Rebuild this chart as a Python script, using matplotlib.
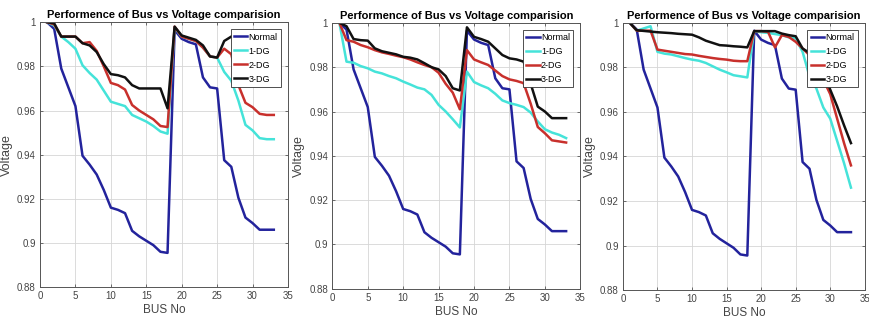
import numpy as np
import matplotlib.pyplot as plt
from matplotlib import font_manager

# Barras do sistema de 33 barras
bus = list(range(1, 34))

# Caso base (igual nos tres graficos)
normal = [1.0, 0.997, 0.979, 0.9705, 0.962, 0.9395, 0.9355, 0.931, 0.9240, 0.916,
          0.915, 0.9135, 0.9055, 0.903, 0.901, 0.899, 0.896, 0.8955, 0.9965, 0.9925,
          0.991, 0.990, 0.975, 0.9705, 0.970, 0.9375, 0.9345, 0.9205, 0.9115, 0.909,
          0.906, 0.906, 0.906]

# Grafico 1
dg1_a = [1.0, 0.9985, 0.9935, 0.991, 0.988, 0.9805, 0.977, 0.974, 0.969, 0.964,
         0.963, 0.962, 0.958, 0.9565, 0.955, 0.953, 0.9505, 0.9495, 0.9975, 0.9935,
         0.9925, 0.9915, 0.9885, 0.9845, 0.984, 0.9775, 0.9735, 0.9645, 0.9535, 0.951,
         0.9475, 0.947, 0.947]
dg2_a = [1.0, 0.999, 0.9935, 0.9935, 0.9935, 0.9905, 0.991, 0.987, 0.980, 0.9725,
         0.9715, 0.9695, 0.9625, 0.960, 0.958, 0.956, 0.953, 0.9525, 0.998, 0.9935,
         0.9925, 0.9915, 0.9885, 0.9845, 0.984, 0.988, 0.9855, 0.9715, 0.9635, 0.9615,
         0.9585, 0.958, 0.958]
dg3_a = [1.0, 0.9995, 0.9935, 0.9935, 0.9935, 0.9905, 0.9895, 0.9865, 0.981, 0.9765,
         0.976, 0.975, 0.9715, 0.970, 0.970, 0.970, 0.970, 0.961, 0.998, 0.994,
         0.993, 0.992, 0.9895, 0.9845, 0.984, 0.9915, 0.9935, 0.995, 0.995, 0.995,
         0.995, 0.995, 0.995]

# Grafico 2
dg1_b = [1.0, 0.9825, 0.982, 0.9805, 0.9795, 0.978, 0.9772, 0.976, 0.975, 0.9735,
         0.9722, 0.9708, 0.970, 0.9675, 0.963, 0.960, 0.9565, 0.9528, 0.978, 0.9733,
         0.9718, 0.9705, 0.968, 0.965, 0.9638, 0.963, 0.962, 0.9595, 0.9555, 0.952,
         0.9505, 0.9495, 0.948]
dg2_b = [1.0, 0.9922, 0.9915, 0.990, 0.989, 0.9877, 0.9867, 0.986, 0.9852, 0.9845,
         0.9835, 0.9822, 0.981, 0.980, 0.9775, 0.9725, 0.9685, 0.961, 0.9877, 0.9835,
         0.9822, 0.981, 0.9785, 0.976, 0.9745, 0.9738, 0.9728, 0.9635, 0.953, 0.9502,
         0.947, 0.9465, 0.946]
dg3_b = [1.0, 0.9985, 0.9927, 0.9922, 0.992, 0.9885, 0.9872, 0.9865, 0.9858, 0.9847,
         0.9843, 0.9835, 0.9818, 0.980, 0.979, 0.976, 0.9705, 0.9695, 0.998, 0.9937,
         0.9927, 0.9915, 0.9885, 0.9855, 0.984, 0.9835, 0.9825, 0.9725, 0.9622, 0.960,
         0.957, 0.957, 0.957]

# Grafico 3
dg1_c = [1.0, 0.9965, 0.9975, 0.9985, 0.987, 0.9862, 0.9858, 0.985, 0.9842, 0.9835,
         0.983, 0.982, 0.9805, 0.979, 0.9778, 0.9765, 0.976, 0.9755, 0.9963, 0.9958,
         0.9955, 0.995, 0.9945, 0.9935, 0.993, 0.987, 0.976, 0.9705, 0.962, 0.957,
         0.947, 0.937, 0.926]
dg2_c = [1.0, 0.9965, 0.9965, 0.9965, 0.988, 0.9875, 0.987, 0.9865, 0.986, 0.9858,
         0.9852, 0.9847, 0.9842, 0.9838, 0.9835, 0.983, 0.9828, 0.9828, 0.9963, 0.9963,
         0.996, 0.989, 0.9945, 0.9937, 0.9915, 0.9885, 0.9855, 0.9815, 0.9745, 0.968,
         0.957, 0.946, 0.936]
dg3_c = [1.0, 0.9967, 0.9964, 0.9961, 0.9958, 0.9956, 0.9954, 0.9951, 0.9949, 0.9947,
         0.9935, 0.992, 0.991, 0.990, 0.9898, 0.9895, 0.9893, 0.989, 0.9963, 0.9963,
         0.9963, 0.9963, 0.9952, 0.9945, 0.994, 0.9885, 0.9865, 0.985, 0.978, 0.970,
         0.9625, 0.954, 0.946]

series_labels = ['Normal', '1-DG', '2-DG', '3-DG']
titulo = 'Performence of Bus vs Voltage comparision'

nomes = [f.name for f in font_manager.fontManager.ttflist]
if 'Liberation Sans Narrow' in nomes:
    plt.rcParams['font.family'] = ['Liberation Sans Narrow', 'DejaVu Sans']
else:
    plt.rcParams['font.family'] = ['Liberation Sans', 'DejaVu Sans']

cores = ['#23239c', '#45e3d9', '#c8302c', '#111111']

fig = plt.figure(figsize=(8.7, 3.27), dpi=100)
posicoes = [[0.046, 0.122, 0.285, 0.81],
            [0.382, 0.117, 0.285, 0.813],
            [0.716, 0.113, 0.278, 0.817]]
casos = [(dg1_a, dg2_a, dg3_a), (dg1_b, dg2_b, dg3_b), (dg1_c, dg2_c, dg3_c)]

for pos, (d1, d2, d3) in zip(posicoes, casos):
    ax = fig.add_axes(pos)
    for y, c, lab in zip([normal, d1, d2, d3], cores, series_labels):
        ax.plot(bus, y, color=c, lw=1.8, label=lab)
    ax.set_xlim(0, 35)
    ax.set_ylim(0.88, 1.0)
    ax.set_xticks(np.arange(0, 36, 5))
    ax.set_yticks([0.88, 0.9, 0.92, 0.94, 0.96, 0.98, 1.0])
    ax.set_yticklabels(['0.88', '0.9', '0.92', '0.94', '0.96', '0.98', '1'])
    ax.grid(True, color='#d6d6d6', lw=0.6)
    ax.tick_params(direction='in', length=2.5, width=0.6, labelsize=7,
                   colors='#555555', labelcolor='#444444', top=True, right=True, pad=3)
    for s in ax.spines.values():
        s.set_color('#555555')
        s.set_linewidth(0.7)
    ax.set_title(titulo, fontsize=8, fontweight='bold', pad=3)
    ax.set_xlabel('BUS No', fontsize=8.5, color='#444444', labelpad=2)
    ax.set_ylabel('Voltage', fontsize=9, color='#444444', labelpad=3)
    leg = ax.legend(loc='upper right', fontsize=6.5, handlelength=1.5, handletextpad=0.15,
                    borderpad=0.35, labelspacing=0.55, borderaxespad=0.8,
                    fancybox=False, framealpha=1, edgecolor='#333333')
    leg.get_frame().set_linewidth(0.6)

plt.savefig('out.png', dpi=100)
